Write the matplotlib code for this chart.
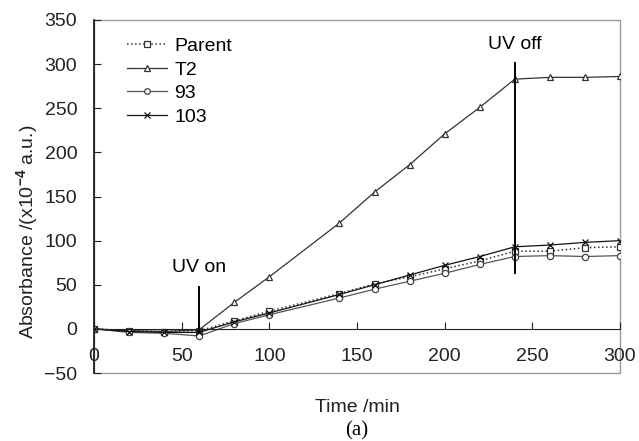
import matplotlib
matplotlib.use("Agg")
import matplotlib.pyplot as plt
from matplotlib.patches import Rectangle

plt.rcParams['font.family'] = ['Liberation Sans', 'DejaVu Sans']
plt.rcParams['mathtext.fontset'] = 'custom'
plt.rcParams['mathtext.rm'] = 'Liberation Sans'
plt.rcParams['mathtext.bf'] = 'Liberation Sans:bold'

# Irradiation time (min) and absorbance (x10^-4 a.u.)
time = [0, 20, 40, 60, 80, 100, 140, 160, 180, 200, 220, 240, 260, 280, 300]
parent = [0, -2, -3, -2, 9, 20, 40, 51, 59, 68, 77, 88, 88, 92, 93]
t2 = [0, -2, -3, -1, 30, 59, 120, 155, 186, 221, 251, 283, 285, 285, 286]
s93 = [0, -4, -5, -8, 6, 16, 35, 45, 54, 63, 73, 82, 83, 82, 83]
s103 = [0, -3, -4, -4, 8, 18, 39, 50, 61, 72, 82, 93, 95, 98, 100]

uv_on_t, uv_off_t = 60, 240
xticks = [0, 50, 100, 150, 200, 250, 300]
yticks = [-50, 0, 50, 100, 150, 200, 250, 300, 350]

FS = 14

fig = plt.figure(figsize=(6.39, 4.41), dpi=100)
ax = fig.add_axes([94 / 639, 1 - 373 / 441, 526 / 639, 353 / 441])

ms = 4.5
ax.plot(time, parent, ls=':', color='#333333', lw=1.1, marker='s', ms=ms,
        mfc='white', mec='#333333', mew=0.9, label='Parent')
ax.plot(time, t2, ls='-', color='#333333', lw=0.9, marker='^', ms=ms + 0.5,
        mfc='white', mec='#333333', mew=0.9, label='T2')
ax.plot(time, s93, ls='-', color='#555555', lw=0.9, marker='o', ms=ms,
        mfc='white', mec='#444444', mew=0.9, label='93')
ax.plot(time, s103, ls='-', color='#111111', lw=0.9, marker='x', ms=ms,
        mec='#111111', mew=0.9, label='103')

# UV on / off markers
ax.plot([uv_on_t, uv_on_t], [-3, 47], color='black', lw=1.4)
ax.text(uv_on_t, 70, 'UV on', ha='center', va='center', fontsize=FS)
ax.plot([uv_off_t, uv_off_t], [63, 301], color='black', lw=1.4)
ax.text(uv_off_t, 322, 'UV off', ha='center', va='center', fontsize=FS)

ax.set_xlim(0, 300)
ax.set_ylim(-50, 350)
ax.set_xticks(xticks)
ax.set_yticks(yticks)

# Axis styling: x axis crosses at zero, grey plot-area frame
ax.spines['bottom'].set_position(('data', 0))
ax.spines['bottom'].set_color('#222222')
ax.spines['left'].set_color('#111111')
ax.spines['left'].set_linewidth(1.2)
ax.spines['top'].set_visible(False)
ax.spines['right'].set_visible(False)
ax.add_patch(Rectangle((0, 0), 1, 1, transform=ax.transAxes, fill=False,
                       edgecolor='#9a9a9a', lw=1.0, clip_on=False, zorder=0))

ax.tick_params(axis='x', direction='in', length=5, pad=14, labelsize=FS,
               colors='#222222')
ax.tick_params(axis='y', direction='in', length=5, pad=12, labelsize=FS,
               colors='#222222')

ax.set_ylabel(r'Absorbance /(x10$^{\mathbf{-4}}$ a.u.)', fontsize=FS,
              color='#222222')
ax.yaxis.set_label_coords(-0.10, 0.40)
ax.set_xlabel('Time /min', fontsize=FS, color='#222222')
ax.xaxis.set_label_coords(0.5, -0.075)

fig.text(357 / 639, 1 - 431 / 441, '(a)', ha='center', va='center',
         fontsize=15, family=['Liberation Serif', 'DejaVu Serif'])

ax.legend(loc='upper left', bbox_to_anchor=(0.062, 0.950), frameon=False,
          fontsize=FS, handlelength=2.1, handletextpad=0.35,
          labelspacing=0.3, borderpad=0, borderaxespad=0, markerscale=0.9)

fig.savefig('out.png', dpi=100)
